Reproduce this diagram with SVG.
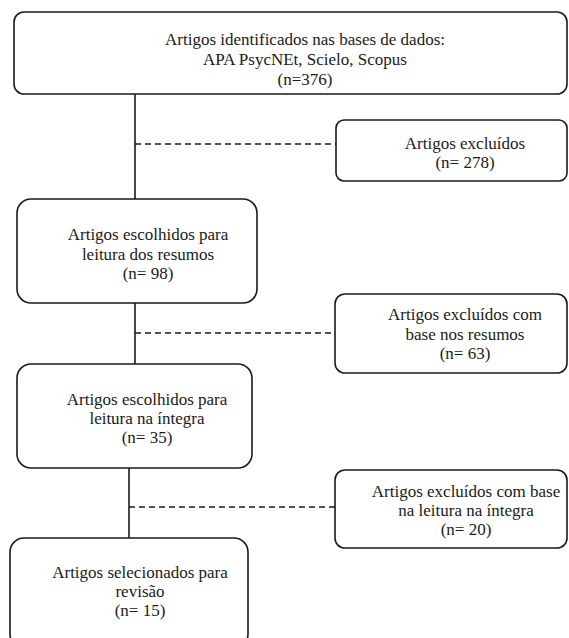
<svg xmlns="http://www.w3.org/2000/svg" width="569" height="638" viewBox="0 0 569 638">
<style>
.box{fill:#fff;stroke:#1a1a1a;stroke-width:1.6}
.ln{stroke:#1a1a1a;stroke-width:1.6;fill:none}
.dash{stroke:#1a1a1a;stroke-width:1.6;fill:none;stroke-dasharray:6 4}
.t{font-family:'Liberation Serif','DejaVu Serif','Times New Roman',serif;font-size:17px;fill:#1a1a1a;text-anchor:middle}
</style>
<rect width="569" height="638" fill="#fff"/>
<g id="connectors">
<line class="ln" x1="135" y1="94" x2="135" y2="199"/>
<line class="dash" x1="135" y1="144" x2="336" y2="144"/>
<line class="ln" x1="135" y1="303" x2="135" y2="364"/>
<line class="dash" x1="135" y1="333" x2="335" y2="333"/>
<line class="ln" x1="129" y1="468" x2="129" y2="538"/>
<line class="dash" x1="129" y1="507" x2="335" y2="507"/>
</g>
<g id="n1" class="t">
<rect class="box" x="14" y="12" width="553" height="82" rx="10"/>
<text x="305" y="45">Artigos identificados nas bases de dados:</text>
<text x="305" y="65">APA PsycNEt, Scielo, Scopus</text>
<text x="305" y="85">(n=376)</text>
</g>
<g id="n2" class="t">
<rect class="box" x="336" y="120" width="231" height="61" rx="8"/>
<text x="465" y="149">Artigos excluídos</text>
<text x="465" y="168">(n= 278)</text>
</g>
<g id="n3" class="t">
<rect class="box" x="17" y="199" width="240" height="104" rx="14"/>
<text x="148" y="240">Artigos escolhidos para</text>
<text x="148" y="259.5">leitura dos resumos</text>
<text x="148" y="279">(n= 98)</text>
</g>
<g id="n4" class="t">
<rect class="box" x="335" y="294" width="232" height="79" rx="10"/>
<text x="465" y="320">Artigos excluídos com</text>
<text x="465" y="339.5">base nos resumos</text>
<text x="465" y="359">(n= 63)</text>
</g>
<g id="n5" class="t">
<rect class="box" x="17" y="364" width="235" height="104" rx="14"/>
<text x="147" y="405">Artigos escolhidos para</text>
<text x="147" y="424">leitura na íntegra</text>
<text x="147" y="443">(n= 35)</text>
</g>
<g id="n6" class="t">
<rect class="box" x="335" y="470" width="232" height="78" rx="10"/>
<text x="466" y="497">Artigos excluídos com base</text>
<text x="466" y="516">na leitura na íntegra</text>
<text x="466" y="535">(n= 20)</text>
</g>
<g id="n7" class="t">
<rect class="box" x="10" y="538" width="238" height="110" rx="14"/>
<text x="140" y="578">Artigos selecionados para</text>
<text x="140" y="597">revisão</text>
<text x="140" y="616">(n= 15)</text>
</g>
</svg>
